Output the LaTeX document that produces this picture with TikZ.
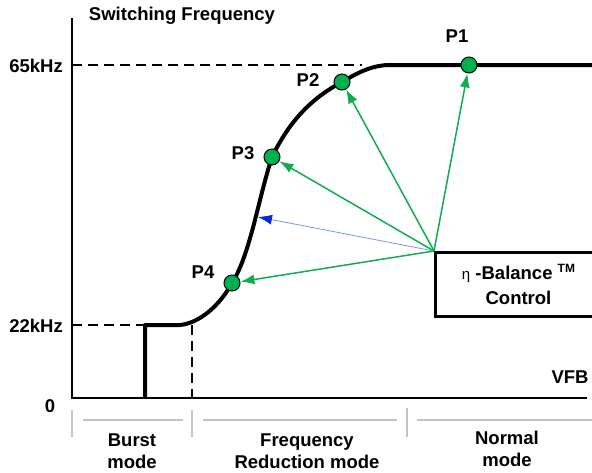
\documentclass[tikz,border=0pt]{standalone}
\usepackage{fontspec}
\setmainfont{Liberation Sans}
\usetikzlibrary{arrows.meta}
\definecolor{dotgreen}{RGB}{0,176,80}
\definecolor{arrowgreen}{RGB}{16,172,78}
\definecolor{arrowblue}{RGB}{120,150,235}
\definecolor{headblue}{RGB}{10,40,210}
\definecolor{tickgray}{RGB}{195,195,195}

\begin{document}
\begin{tikzpicture}[x=1pt,y=-1pt,
		every node/.style={font=\fontsize{18.5}{22}\selectfont\bfseries,inner sep=0pt},
		dot/.style={circle,fill=dotgreen,draw=black,line width=1pt,minimum size=16pt},
		axis/.style={line width=2pt,black},
		curve/.style={line width=4pt,black,line join=round},
		guide/.style={line width=1.5pt,black,dash pattern=on 10pt off 6pt},
		tick/.style={line width=1.5pt,tickgray},
		garrow/.style={line width=1.5pt,arrowgreen,-{Latex[length=14pt,width=10pt]}},
		barrow/.style={line width=0.8pt,arrowblue,-{Latex[length=14pt,width=10pt,color=headblue]}}]
	\useasboundingbox (0,0) rectangle (592,472);
	% axes
	\coordinate (o) at (72,398);
	\coordinate (ytop) at (72,18);
	\coordinate (xend) at (587,398);
	\draw[axis] (ytop)--(o)--(xend);
	\node (ylab) at (182,16) {Switching Frequency};
	\node (xlab) at (570,377) {VFB};
	\node[anchor=east] (fhi) at (63,66) {65kHz};
	\node[anchor=east] (flo) at (63,326) {22kHz};
	\node (zero) at (50,406) {0};
	% curve
	\coordinate (c1) at (469,65);
	\coordinate (c2) at (342,82);
	\coordinate (c3) at (272,157);
	\coordinate (c4) at (232,283);
	\coordinate (bluetip) at (258,217);
	\draw[guide] (72,65)--(362,65);
	\draw[guide] (72,325)--(145,325);
	\draw[guide] (192,325)--(192,398);
	\draw[curve] (145,398)--(145,325)--(180,325)
		.. controls (200,323) and (220,305) .. (c4)
		.. controls (250,255) and (258,200) .. (c3)
		.. controls (290,120) and (312,98) .. (c2)
		.. controls (362,70) and (375,65) .. (390,65)--(592,65);
	\node[dot] (p1) at (c1) {};
	\node[dot] (p2) at (c2) {};
	\node[dot] (p3) at (c3) {};
	\node[dot] (p4) at (c4) {};
	\node (l1) at (457,36) {P1};
	\node (l2) at (308,80) {P2};
	\node (l3) at (243,153) {P3};
	\node (l4) at (203,272) {P4};
	% control box
	\node[draw,line width=3pt,minimum width=166pt,minimum height=64pt,anchor=north west,align=center] (ctrl) at (434,251)
		{{\fontsize{15}{15}\mdseries\selectfont η} -Balance \raisebox{7pt}{\fontsize{12}{12}\selectfont TM}\\[3pt]Control};
	\draw[garrow] (ctrl.north west)--(p1);
	\draw[garrow] (ctrl.north west)--(p2);
	\draw[garrow] (ctrl.north west)--(p3);
	\draw[barrow] (ctrl.north west)--(bluetip);
	\draw[garrow] (ctrl.north west)--(p4);
	% modes
	\draw[tick] (72,410)--(72,437);
	\draw[tick] (192,410)--(192,437);
	\draw[tick] (407,408)--(407,437);
	\draw[tick] (83,420)--(183,420);
	\draw[tick] (203,420)--(397,420);
	\draw[tick] (417,420)--(592,420);
	\node[align=center] (burst) at (132,451) {Burst\\mode};
	\node[align=center] (freq) at (307,451) {Frequency\\Reduction mode};
	\node[align=center] (normal) at (507,449) {Normal\\mode};
\end{tikzpicture}
\end{document}
